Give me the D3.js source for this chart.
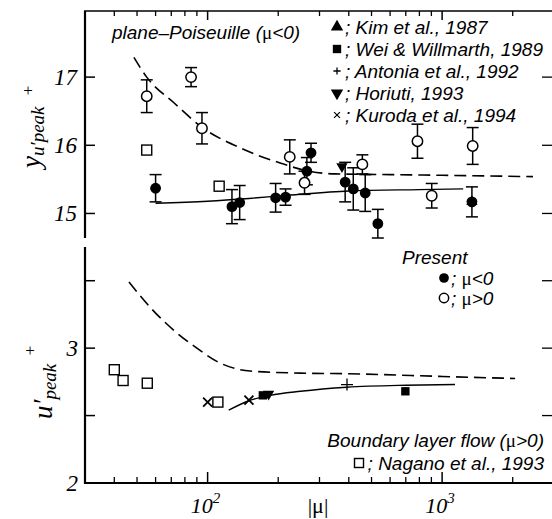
<!DOCTYPE html>
<html>
<head>
<meta charset="utf-8">
<script src="https://cdn.jsdelivr.net/npm/d3@7"></script>
<style>
  body { margin: 0; background: #fff; }
  .serif { font-family: "Liberation Serif", "DejaVu Serif", serif; font-style: italic; }
  .sans { font-family: "Liberation Sans", Arial, sans-serif; font-style: italic; }
  .mu { font-family: "Liberation Serif", serif; font-style: normal; }
</style>
</head>
<body>
<div id="chart"></div>
<script>
// Present DNS, mu < 0 (filled circles), upper panel
const negMu  = [60, 127, 137, 195, 215, 265, 276, 386, 418, 470, 532, 1340];
const negY   = [15.37, 15.10, 15.16, 15.23, 15.24, 15.62, 15.89, 15.46, 15.36, 15.30, 14.85, 15.17];
const negErr = [0.20, 0.25, 0.25, 0.21, 0.12, 0.20, 0.14, 0.29, 0.31, 0.27, 0.21, 0.22];

// Present DNS, mu > 0 (open circles), upper panel
const posMu  = [55, 85, 94.6, 224, 259, 457, 785, 903, 1350];
const posY   = [16.72, 17.00, 16.25, 15.83, 15.45, 15.72, 16.06, 15.26, 15.99];
const posErr = [0.24, 0.14, 0.23, 0.25, 0.17, 0.14, 0.25, 0.18, 0.27];

// reference data, upper panel
const naganoTopMu = [55, 112];
const naganoTopY  = [15.93, 15.40];
const horiutiTopMu = [374];
const horiutiTopY  = [15.69];
const kimTopMu = [1340];
const kimTopY  = [15.17];

// reference data, lower panel
const naganoBotMu = [40, 43.6, 55.3, 110.6];
const naganoBotY  = [2.84, 2.76, 2.74, 2.60];
const kurodaMu = [100, 150];
const kurodaY  = [2.60, 2.615];
const weiMu = [172, 697];
const weiY  = [2.65, 2.68];
const horiutiBotMu = [182];
const horiutiBotY  = [2.66];
const antoniaMu = [393];
const antoniaY  = [2.73];

// curves
const dashTopMu = [48.5, 55, 72, 95, 138, 204, 270, 350, 600, 1000, 2440];
const dashTopY  = [17.29, 17.0, 16.62, 16.26, 15.96, 15.74, 15.62, 15.58, 15.57, 15.56, 15.54];
const solidTopMu = [60, 100, 150, 225, 400, 800, 1230];
const solidTopY  = [15.15, 15.18, 15.22, 15.27, 15.33, 15.35, 15.36];
const dashBotMu = [46.2, 60, 72, 90, 110, 152, 249, 400, 1000, 2047];
const dashBotY  = [3.49, 3.26, 3.13, 3.0, 2.90, 2.83, 2.815, 2.81, 2.79, 2.775];
const solidBotMu = [123, 150, 185, 249, 393, 700, 1135];
const solidBotY  = [2.54, 2.61, 2.65, 2.68, 2.71, 2.725, 2.73];

// ticks
const topTicks = [15, 16, 17];
const topTickLabels = ['15', '16', '17'];
const botTicks = [2.5, 3, 3.5];
const botTickLabels = ['2', '3'];
const botLabelValues = [2, 3];
const xMajor = [100, 1000];
const xMajorExp = ['2', '3'];
const xMinor = [40, 50, 60, 70, 80, 90, 200, 300, 400, 500, 600, 700, 800, 900, 2000];

const width = 552, height = 519;
const svg = d3.select('#chart').append('svg')
    .attr('width', width).attr('height', height);

// scales
const x = d3.scaleLog().domain([30, 3000]).range([85, 554]);
const yTop = d3.scaleLinear().domain([14.64, 17.97]).range([238, 11]);
const yBot = d3.scaleLinear().domain([2, 3.75]).range([483, 247]);

const zip = (a, b) => a.map((v, i) => [v, b[i]]);

// frame
const frame = svg.append('g').attr('stroke', '#000').attr('fill', 'none');
frame.append('line').attr('x1', 85).attr('x2', 85).attr('y1', 11).attr('y2', 238).attr('stroke-width', 2.2);
frame.append('line').attr('x1', 85).attr('x2', 85).attr('y1', 247).attr('y2', 484).attr('stroke-width', 2.2);
frame.append('line').attr('x1', 84).attr('x2', 554).attr('y1', 483).attr('y2', 483).attr('stroke-width', 2.2);
frame.append('line').attr('x1', 84).attr('x2', 554).attr('y1', 11).attr('y2', 11).attr('stroke-width', 1.5);

// x ticks (inward, top and bottom)
xMinor.forEach(v => {
    frame.append('line').attr('x1', x(v)).attr('x2', x(v)).attr('y1', 483).attr('y2', 477).attr('stroke-width', 1.3);
    frame.append('line').attr('x1', x(v)).attr('x2', x(v)).attr('y1', 11).attr('y2', 16).attr('stroke-width', 1.3);
});
xMajor.forEach(v => {
    frame.append('line').attr('x1', x(v)).attr('x2', x(v)).attr('y1', 483).attr('y2', 472).attr('stroke-width', 1.5);
    frame.append('line').attr('x1', x(v)).attr('x2', x(v)).attr('y1', 11).attr('y2', 20).attr('stroke-width', 1.5);
});

// y ticks (inward, left and right)
topTicks.forEach(v => {
    frame.append('line').attr('x1', 85).attr('x2', 95).attr('y1', yTop(v)).attr('y2', yTop(v)).attr('stroke-width', 1.5);
    frame.append('line').attr('x1', 542).attr('x2', 554).attr('y1', yTop(v)).attr('y2', yTop(v)).attr('stroke-width', 1.3);
});
botTicks.forEach(v => {
    frame.append('line').attr('x1', 85).attr('x2', 95).attr('y1', yBot(v)).attr('y2', yBot(v)).attr('stroke-width', 1.5);
    frame.append('line').attr('x1', 542).attr('x2', 554).attr('y1', yBot(v)).attr('y2', yBot(v)).attr('stroke-width', 1.3);
});

// tick labels
svg.selectAll('.tl-top').data(topTicks).enter().append('text')
    .attr('class', 'serif').attr('x', 77).attr('y', d => yTop(d) + 8)
    .attr('text-anchor', 'end').attr('font-size', 23)
    .text((d, i) => topTickLabels[i]);
svg.selectAll('.tl-bot').data(botLabelValues).enter().append('text')
    .attr('class', 'serif').attr('x', 78).attr('y', d => yBot(d) + 8)
    .attr('text-anchor', 'end').attr('font-size', 23)
    .text((d, i) => botTickLabels[i]);
xMajor.forEach((v, i) => {
    const t = svg.append('text').attr('class', 'serif').attr('x', x(v) - 2).attr('y', 513)
        .attr('text-anchor', 'middle').attr('font-size', 22);
    t.append('tspan').text('10');
    t.append('tspan').attr('font-size', 15).attr('dy', -10).text(xMajorExp[i]);
});
svg.append('text').attr('class', 'mu').attr('x', 318).attr('y', 513)
    .attr('text-anchor', 'middle').attr('font-size', 22).text('|μ|');

// y axis titles
const yl1 = svg.append('text').attr('class', 'serif')
    .attr('transform', 'translate(40,168) rotate(-90)').attr('font-size', 27);
yl1.append('tspan').text('y');
yl1.append('tspan').attr('font-size', 19).attr('dy', 4).text('u′peak');
svg.append('text').attr('class', 'mu').attr('x', 28).attr('y', 96).attr('text-anchor', 'middle')
    .attr('font-size', 17).text('+');

const yl2 = svg.append('text').attr('class', 'serif')
    .attr('transform', 'translate(52,419) rotate(-90)').attr('font-size', 27);
yl2.append('tspan').text('u′');
yl2.append('tspan').attr('font-size', 19).attr('dy', 4).text('peak');
svg.append('text').attr('class', 'mu').attr('x', 30).attr('y', 356).attr('text-anchor', 'middle')
    .attr('font-size', 17).text('+');

// curves
const line = (ys) => d3.line().x(d => x(d[0])).y(d => ys(d[1])).curve(d3.curveMonotoneX);
const curves = svg.append('g').attr('fill', 'none').attr('stroke', '#000');
curves.append('path').attr('d', line(yTop)(zip(dashTopMu, dashTopY)))
    .attr('stroke-width', 1.6).attr('stroke-dasharray', '12,6');
curves.append('path').attr('d', line(yTop)(zip(solidTopMu, solidTopY))).attr('stroke-width', 1.4);
curves.append('path').attr('d', line(yBot)(zip(dashBotMu, dashBotY)))
    .attr('stroke-width', 1.6).attr('stroke-dasharray', '12,6');
curves.append('path').attr('d', line(yBot)(zip(solidBotMu, solidBotY))).attr('stroke-width', 1.4);

// error bars
function errorBars(mu, ys, err) {
    const g = svg.append('g').attr('stroke', '#000').attr('stroke-width', 1.5);
    mu.forEach((m, i) => {
        const cx = x(m), y1 = yTop(ys[i] + err[i]), y2 = yTop(ys[i] - err[i]);
        g.append('line').attr('x1', cx).attr('x2', cx).attr('y1', y1).attr('y2', y2);
        g.append('line').attr('x1', cx - 6).attr('x2', cx + 6).attr('y1', y1).attr('y2', y1);
        g.append('line').attr('x1', cx - 6).attr('x2', cx + 6).attr('y1', y2).attr('y2', y2);
    });
}
errorBars(posMu, posY, posErr);
errorBars(negMu, negY, negErr);

// symbols
const sym = {
    tri: d3.symbol().type(d3.symbolTriangle).size(55),
    square: d3.symbol().type(d3.symbolSquare).size(70)
};
function markers(mu, ys, yScale, kind) {
    const g = svg.append('g');
    mu.forEach((m, i) => drawMarker(g, x(m), yScale(ys[i]), kind, 1));
}
function drawMarker(g, cx, cy, kind, k) {
    if (kind === 'open') {
        g.append('circle').attr('cx', cx).attr('cy', cy).attr('r', 5.2 * k)
            .attr('fill', '#fff').attr('stroke', '#000').attr('stroke-width', 1.5);
    } else if (kind === 'filled') {
        g.append('circle').attr('cx', cx).attr('cy', cy).attr('r', 5.4 * k).attr('fill', '#000');
    } else if (kind === 'osq') {
        const h = 5 * k;
        g.append('rect').attr('x', cx - h).attr('y', cy - h).attr('width', 2 * h).attr('height', 2 * h)
            .attr('fill', '#fff').attr('stroke', '#000').attr('stroke-width', 1.4);
    } else if (kind === 'fsq') {
        g.append('path').attr('d', sym.square()).attr('transform', `translate(${cx},${cy}) scale(${k})`).attr('fill', '#000');
    } else if (kind === 'tri') {
        g.append('path').attr('d', sym.tri()).attr('transform', `translate(${cx},${cy}) scale(${k})`).attr('fill', '#000');
    } else if (kind === 'itri') {
        g.append('path').attr('d', sym.tri()).attr('transform', `translate(${cx},${cy}) scale(${k}) rotate(180)`).attr('fill', '#000');
    } else if (kind === 'plus') {
        const h = 6 * k;
        g.append('path').attr('d', `M${-h},0H${h}M0,${-h}V${h}`).attr('transform', `translate(${cx},${cy})`)
            .attr('stroke', '#000').attr('stroke-width', 1.3).attr('fill', 'none');
    } else if (kind === 'x') {
        const h = 4.5 * k;
        g.append('path').attr('d', `M${-h},${-h}L${h},${h}M${-h},${h}L${h},${-h}`).attr('transform', `translate(${cx},${cy})`)
            .attr('stroke', '#000').attr('stroke-width', 1.8 * k).attr('fill', 'none');
    }
}

markers(naganoTopMu, naganoTopY, yTop, 'osq');
markers(posMu, posY, yTop, 'open');
markers(negMu, negY, yTop, 'filled');
markers(horiutiTopMu, horiutiTopY, yTop, 'itri');
markers(kimTopMu, kimTopY, yTop, 'tri');

markers(naganoBotMu, naganoBotY, yBot, 'osq');
markers(kurodaMu, kurodaY, yBot, 'x');
markers(weiMu, weiY, yBot, 'fsq');
markers(horiutiBotMu, horiutiBotY, yBot, 'itri');
markers(antoniaMu, antoniaY, yBot, 'plus');

// annotations
const ann = svg.append('g').attr('font-size', 19);
const t1 = ann.append('text').attr('class', 'sans').attr('x', 112).attr('y', 39);
t1.append('tspan').text('plane–Poiseuille (');
t1.append('tspan').attr('class', 'mu').text('μ');
t1.append('tspan').text('<0)');

const legendRows = ['; Kim et al., 1987', '; Wei & Willmarth, 1989', '; Antonia et al., 1992',
    '; Horiuti, 1993', '; Kuroda et al., 1994'];
const legendKinds = ['tri', 'fsq', 'plus', 'itri', 'x'];
const legendScale = [1.1, 1, 0.6, 1.1, 0.65];
legendRows.forEach((s, i) => {
    const cy = 27 + i * 22;
    drawMarker(ann, 337, cy, legendKinds[i], legendScale[i]);
    ann.append('text').attr('class', 'sans').attr('x', 345).attr('y', cy + 7).text(s);
});

ann.append('text').attr('class', 'sans').attr('x', 402).attr('y', 264).text('Present');
drawMarker(ann, 444, 278, 'filled', 0.9);
drawMarker(ann, 444, 298, 'open', 0.9);
[['<0', 285], ['>0', 305]].forEach(([s, yy]) => {
    const t = ann.append('text').attr('class', 'sans').attr('x', 451).attr('y', yy);
    t.append('tspan').text('; ');
    t.append('tspan').attr('class', 'mu').text('μ');
    t.append('tspan').text(s);
});

const t2 = ann.append('text').attr('class', 'sans').attr('x', 544).attr('y', 447).attr('text-anchor', 'end');
t2.append('tspan').text('Boundary layer flow (');
t2.append('tspan').attr('class', 'mu').text('μ');
t2.append('tspan').text('>0)');
drawMarker(ann, 359, 463, 'osq', 0.9);
ann.append('text').attr('class', 'sans').attr('x', 544).attr('y', 470).attr('text-anchor', 'end')
    .text('; Nagano et al., 1993');
</script>
</body>
</html>
